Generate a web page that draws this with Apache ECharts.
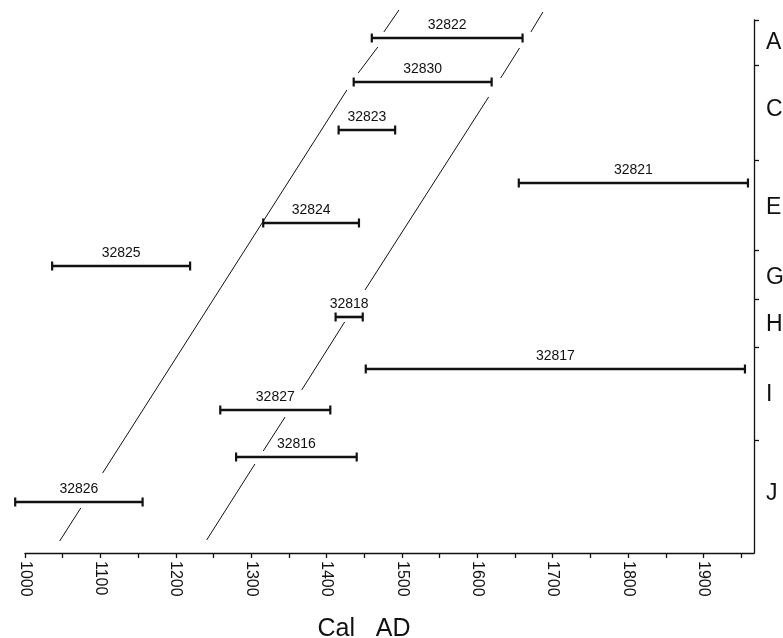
<!DOCTYPE html>
<html>
<head>
<meta charset="utf-8">
<script src="https://cdn.jsdelivr.net/npm/echarts@6/dist/echarts.min.js"></script>
<style>
  html, body { margin: 0; padding: 0; background: #fff; }
  #chart { width: 783px; height: 638px; }
</style>
</head>
<body>
<div id="chart"></div>
<script>
// ---- data ----
const labIds   = ['32822', '32830', '32823', '32821', '32824', '32825', '32818', '32817', '32827', '32816', '32826'];
const calFrom  = [1460, 1436, 1416, 1655, 1316, 1036, 1412, 1452, 1259, 1280, 987];
const calTo    = [1660, 1619, 1491, 1959, 1443, 1219, 1448, 1955, 1405, 1440, 1156];
const depth    = [18, 62, 110, 163, 203, 246, 297, 349, 390, 437, 482];

// two sloping reference lines (null = break)
const leftLineYears  = [1496, 1476, null, 1468, 1442, null, 1427, 1103, null, 1074, 1046];
const leftLineDepths = [-10, 12, null, 27, 53, null, 70, 453, null, 488, 521];
const rightLineYears  = [1687, 1671, null, 1656, 1631, null, 1615, 1451, null, 1424, 1367, null, 1345, 1316, null, 1305, 1241];
const rightLineDepths = [-8, 12, null, 28, 58, null, 77, 270, null, 302, 370, null, 397, 431, null, 444, 520];

// axis ticks / labels
const xTickValues  = [1000, 1050, 1100, 1150, 1200, 1250, 1300, 1350, 1400, 1450, 1500, 1550, 1600, 1650, 1700, 1750, 1800, 1850, 1900, 1950];
const xLabelValues = [1000, 1100, 1200, 1300, 1400, 1500, 1600, 1700, 1800, 1900];
const unitBoundaries = [0, 45, 140, 230, 279, 327, 420];
const unitNames      = ['A', 'C', 'E', 'G', 'H', 'I', 'J'];
const unitLabelPos   = [23, 90, 188, 258, 305, 375, 474];

// ---- chart ----
const ink = '#111';
const chart = echarts.init(document.getElementById('chart'));

function toPairs(xs, ys) {
  return xs.map((x, i) => (x === null ? '-' : [x, ys[i]]));
}

const rangeData = labIds.map((id, i) => [calFrom[i], calTo[i], depth[i], i]);

chart.setOption({
  animation: false,
  backgroundColor: '#fff',
  grid: { left: 25, right: 29, top: 20, bottom: 85, containLabel: false, outerBoundsMode: 'none' },
  xAxis: {
    type: 'value',
    position: 'bottom',
    min: 1000,
    max: 1967,
    splitLine: { show: false },
    axisLine: { show: true, onZero: false, lineStyle: { color: ink, width: 1.3 } },
    axisTick: { show: true, customValues: xTickValues, length: 5, lineStyle: { color: ink, width: 1.3 } },
    axisLabel: {
      customValues: xLabelValues,
      rotate: -90,
      margin: 8,
      color: ink,
      fontFamily: 'Arial, Liberation Sans, sans-serif',
      fontSize: 16,
      formatter: function (v) { return String(v); }
    },
    name: 'Cal   AD',
    nameLocation: 'middle',
    nameGap: 64,
    nameTextStyle: {
      color: ink,
      fontFamily: 'Arial, Liberation Sans, sans-serif',
      fontSize: 25,
      padding: [0, 51, 0, 0]
    }
  },
  yAxis: {
    type: 'value',
    inverse: true,
    position: 'right',
    min: 0,
    max: 533,
    splitLine: { show: false },
    axisLine: { show: true, onZero: false, lineStyle: { color: ink, width: 1.3 } },
    axisTick: { show: true, customValues: unitBoundaries, length: 5, lineStyle: { color: ink, width: 1.3 } },
    axisLabel: {
      customValues: unitLabelPos,
      margin: 12,
      color: ink,
      fontFamily: 'Arial, Liberation Sans, sans-serif',
      fontSize: 23,
      formatter: function (v) {
        const idx = unitLabelPos.indexOf(v);
        return idx >= 0 ? unitNames[idx] : '';
      }
    }
  },
  series: [
    {
      type: 'line',
      data: toPairs(leftLineYears, leftLineDepths),
      showSymbol: false,
      symbol: 'none',
      connectNulls: false,
      clip: false,
      lineStyle: { color: ink, width: 1 },
      z: 1
    },
    {
      type: 'line',
      data: toPairs(rightLineYears, rightLineDepths),
      showSymbol: false,
      symbol: 'none',
      connectNulls: false,
      clip: false,
      lineStyle: { color: ink, width: 1 },
      z: 1
    },
    {
      type: 'custom',
      clip: false,
      data: rangeData,
      encode: { x: [0, 1], y: 2 },
      renderItem: function (params, api) {
        const s = api.coord([api.value(0), api.value(2)]);
        const e = api.coord([api.value(1), api.value(2)]);
        const id = labIds[api.value(3)];
        return {
          type: 'group',
          children: [
            { type: 'line', shape: { x1: s[0], y1: s[1], x2: e[0], y2: e[1] }, style: { stroke: ink, lineWidth: 2.6 } },
            { type: 'line', shape: { x1: s[0], y1: s[1] - 4.5, x2: s[0], y2: s[1] + 4.5 }, style: { stroke: ink, lineWidth: 2.2 } },
            { type: 'line', shape: { x1: e[0], y1: e[1] - 4.5, x2: e[0], y2: e[1] + 4.5 }, style: { stroke: ink, lineWidth: 2.2 } },
            {
              type: 'text',
              x: (s[0] + e[0]) / 2,
              y: s[1] - 13,
              style: {
                text: id,
                fill: ink,
                font: '14px Arial, "Liberation Sans", sans-serif',
                align: 'center',
                verticalAlign: 'middle'
              }
            }
          ]
        };
      },
      z: 3
    }
  ]
});
</script>
</body>
</html>
